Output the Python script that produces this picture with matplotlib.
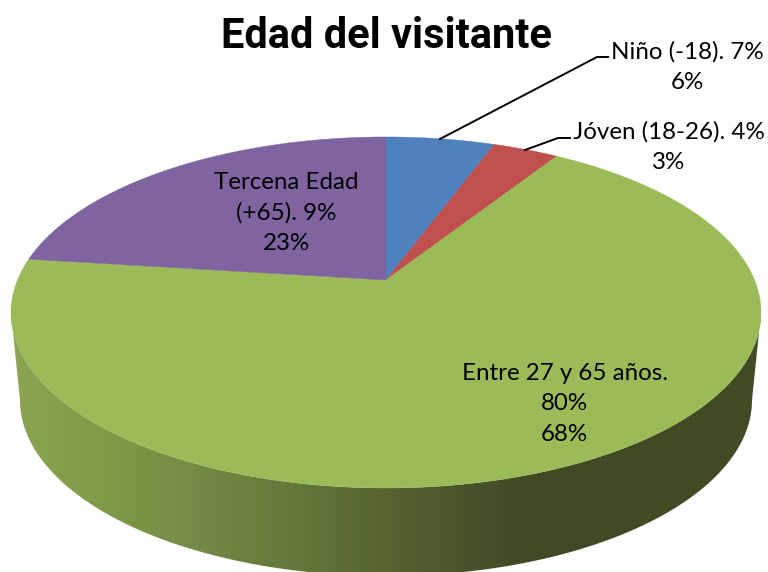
#!/usr/bin/env python
# perspective 3d pie, excel style
import numpy as np
import matplotlib
matplotlib.use("Agg")
import matplotlib.pyplot as plt
from matplotlib.colors import LinearSegmentedColormap
from matplotlib.patches import Polygon

title = "Edad del visitante"
categories = ["Niño (-18). 7%", "Jóven (18-26). 4%", "Entre 27 y 65 años.\n80%", "Tercena Edad\n(+65). 9%"]
values = [5.6, 3.4, 68.0, 23.0]
percent_labels = ["6%", "3%", "68%", "23%"]
colors = ["#4f81bd", "#c0504d", "#9bbb59", "#8064a2"]

side_stops = [(0.0, "#8ba552"), (0.12, "#7f9b48"), (0.25, "#738a45"), (0.38, "#64783a"),
              (0.50, "#566430"), (0.56, "#4d5a2e"), (0.68, "#3f4a24"), (1.0, "#414c25")]

# projection of the unit circle on the page
cx, cy = 386, 280
b, a, k = 368.5, 169.5, 0.185


def project(theta):
    x, y = np.sin(theta), np.cos(theta)
    d = 1 + k * y
    return cx + b * x / d, cy - a * y / d


fig = plt.figure(figsize=(7.68, 5.72), dpi=100)
ax = fig.add_axes([0, 0, 1, 1])
ax.set_xlim(0, 768)
ax.set_ylim(572, 0)
ax.axis("off")

# side wall
t = np.linspace(0, np.pi, 200)
top_x = 386 - 375 * np.cos(t)
top_y = 312.5 + 175.5 * np.sin(t)
bot_x = 386 + 366 * np.cos(t)
bot_y = 400 + 176 * np.sin(t)
wall = Polygon(np.column_stack([np.r_[top_x, bot_x], np.r_[top_y, bot_y]]), closed=True,
               facecolor="none", edgecolor="none")
ax.add_patch(wall)
cmap = LinearSegmentedColormap.from_list("side", side_stops)
img = ax.imshow(np.linspace(0, 1, 400).reshape(1, -1), cmap=cmap, extent=(11, 761, 572, 300),
                aspect="auto", zorder=1)
img.set_clip_path(wall)
ax.set_xlim(0, 768)
ax.set_ylim(572, 0)

# top of the pie
edges = np.r_[0, np.cumsum(values)] / np.sum(values) * 2 * np.pi
for i in range(len(values)):
    th = np.linspace(edges[i], edges[i + 1], 200)
    px, py = project(th)
    ax.add_patch(Polygon(np.column_stack([np.r_[cx, px], np.r_[cy, py]]), closed=True,
                         facecolor=colors[i], edgecolor=colors[i], linewidth=0.3, zorder=2))

# leader lines
ax.plot([440, 597, 608], [139, 57, 57], color="black", lw=1.4, zorder=3)
ax.plot([525, 558, 570], [150, 138, 138], color="black", lw=1.4, zorder=3)

ax.text(386, 37, title, family="Roboto", weight="bold", fontsize=30,
        ha="center", va="center", color="black", zorder=4)

font = dict(family="Lato", fontsize=17.4, ha="center", va="center", color="black",
            linespacing=1.56, zorder=4)
ax.text(687, 67, categories[0] + "\n" + percent_labels[0], **font)
ax.text(669, 147, categories[1] + "\n" + percent_labels[1], **font)
ax.text(564.5, 404, categories[2] + "\n" + percent_labels[2], **font)
ax.text(286.5, 213, categories[3] + "\n" + percent_labels[3], **font)

fig.savefig("out.png", dpi=100)
